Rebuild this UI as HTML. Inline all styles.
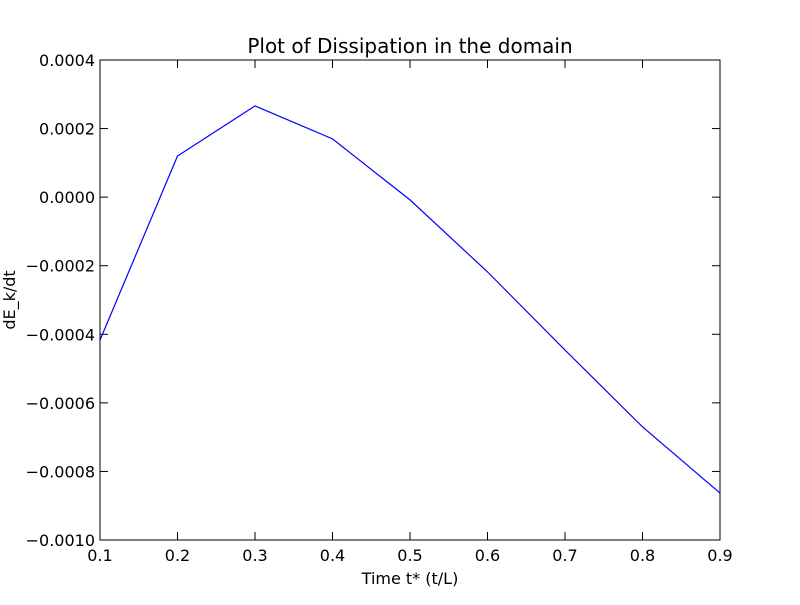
<!DOCTYPE html>
<html><head><meta charset="utf-8"><style>
body{margin:0;background:#fff;}
svg text{font-family:"DejaVu Sans","Liberation Sans",sans-serif;fill:#000;}
</style></head><body>
<svg id="chart" width="800" height="600" xmlns="http://www.w3.org/2000/svg">
<rect x="0" y="0" width="800" height="600" fill="#fff"/>
<g id="ticks"></g>
<polyline id="line" fill="none" stroke="#0000ff" stroke-width="1.2"/>
<rect x="100" y="60" width="620" height="480" fill="none" stroke="#000" stroke-width="1"/>
<text x="410" y="53" font-size="20" text-anchor="middle">Plot of Dissipation in the domain</text>
<text x="410" y="584" font-size="16" text-anchor="middle">Time t* (t/L)</text>
<text transform="translate(15,300) rotate(-90)" font-size="16" text-anchor="middle">dE_k/dt</text>
</svg>
<script>
const xValues = [0.1, 0.2, 0.3, 0.4, 0.5, 0.6, 0.7, 0.8, 0.9];
const yValues = [-0.000417, 0.00012, 0.000266, 0.00017, -0.000008, -0.000218, -0.000446, -0.00067, -0.000863];
const xTicks = [0.1, 0.2, 0.3, 0.4, 0.5, 0.6, 0.7, 0.8, 0.9];
const yTicks = [0.0004, 0.0002, 0.0, -0.0002, -0.0004, -0.0006, -0.0008, -0.0010];
const yTickLabels = ["0.0004", "0.0002", "0.0000", "\u22120.0002", "\u22120.0004", "\u22120.0006", "\u22120.0008", "\u22120.0010"];

const L=100,R=720,T=60,B=540, xMin=0.1,xMax=0.9,yMin=-0.001,yMax=0.0004;
const sx=v=>L+(v-xMin)/(xMax-xMin)*(R-L);
const sy=v=>B-(v-yMin)/(yMax-yMin)*(B-T);
const NS="http://www.w3.org/2000/svg";
const g=document.getElementById('ticks');
function mk(tag,attrs){const e=document.createElementNS(NS,tag);for(const k in attrs)e.setAttribute(k,attrs[k]);g.appendChild(e);return e;}
xTicks.forEach(v=>{
  const x=sx(v);
  const t1=mk('line',{x1:x,x2:x,y1:B,y2:B-8,stroke:'#000'});
  
  
  const t2=mk('line',{x1:x,x2:x,y1:T,y2:T+8,stroke:'#000'});
  
  
  const tx=mk('text',{x:x,y:B+21,'font-size':16,'text-anchor':'middle'});
  tx.textContent=v.toFixed(1);
  
  
});
yTicks.forEach((v,i)=>{
  const y=sy(v);
  const t1=mk('line',{x1:L,x2:L+8,y1:y,y2:y,stroke:'#000'});
  
  
  const t2=mk('line',{x1:R,x2:R-8,y1:y,y2:y,stroke:'#000'});
  
  
  const tx=mk('text',{x:L-5,y:y+6,'font-size':16,'text-anchor':'end'});
  tx.textContent=yTickLabels[i];
  
  
});
document.getElementById('line').setAttribute('points',xValues.map((x,i)=>sx(x)+','+sy(yValues[i])).join(' '));
</script>
</body></html>
